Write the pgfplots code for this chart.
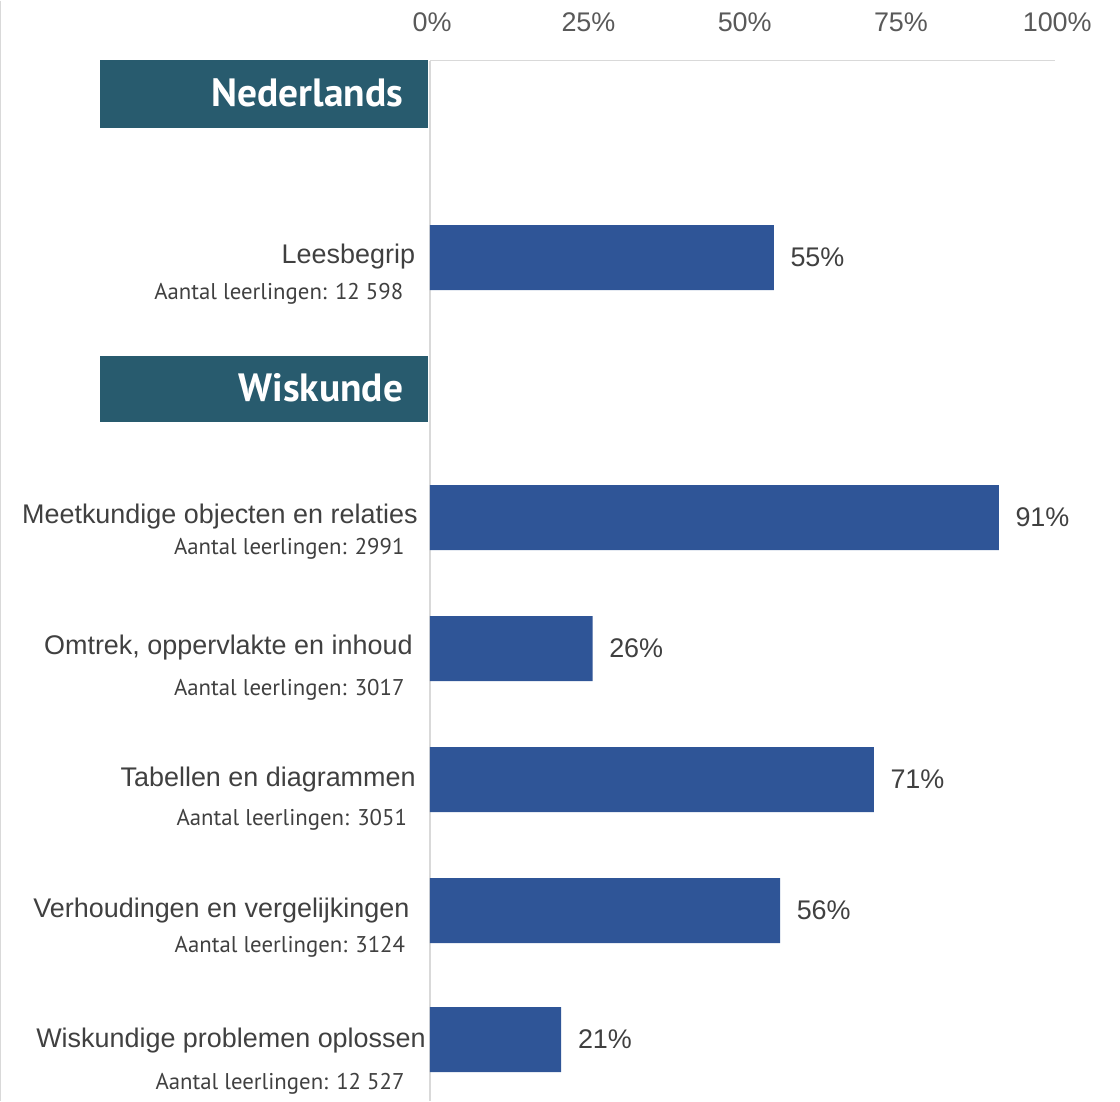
\documentclass[border=0pt]{standalone}
\usepackage{pgfplots}
\pgfplotsset{compat=1.18}
\usepackage{fontspec}
\setmainfont{Liberation Sans}
\newfontfamily\aantalfont{PT Sans}
\definecolor{barblue}{HTML}{2F5597}
\definecolor{hdrteal}{HTML}{285B6E}
\definecolor{lbl}{HTML}{404040}
\definecolor{tck}{HTML}{595959}
\definecolor{axgray}{HTML}{D9D9D9}
\newcommand\lblfont{\fontsize{9.7}{11}\selectfont}
\newcommand\subfont{\aantalfont\fontsize{8.2}{10}\selectfont}
\newcommand\hdrfont{\aantalfont\bfseries\fontsize{14.2}{16}\selectfont}

\begin{document}
\begin{tikzpicture}
\begin{axis}[
  scale only axis,
  width=225pt,
  height=374.4pt,
  xmin=0, xmax=100,
  ymin=-1100, ymax=-60,
  axis x line*=top,
  axis y line*=left,
  axis line style={draw=axgray, line width=0.6pt},
  xtick={0,25,50,75,100},
  xticklabel={\pgfmathprintnumber{\tick}\%},
  xticklabel style={font=\lblfont, text=tck, anchor=center, yshift=13.7pt, xshift=0.8pt},
  /pgf/number format/assume math mode=true,
  major tick length=0pt,
  ytick=\empty,
  xbar,
  bar width=65,
  point meta=x,
  nodes near coords={\pgfmathprintnumber{\pgfplotspointmeta}\%},
  nodes near coords style={font=\lblfont, text=lbl, xshift=2.5pt},
  clip=false,
]
\addplot[fill=barblue, draw=none] coordinates {
  (55,-257) (91,-517) (26,-648) (71,-779) (56,-910) (21,-1039)
};

% section headers
\fill[hdrteal] (axis cs:-52.8,-59) rectangle (axis cs:-0.3,-127);
\node[anchor=east, inner sep=0pt, text=white, font=\hdrfont] at (axis cs:-4.2,-92) {Nederlands};
\fill[hdrteal] (axis cs:-52.8,-355) rectangle (axis cs:-0.3,-421);
\node[anchor=east, inner sep=0pt, text=white, font=\hdrfont] at (axis cs:-4.2,-387) {Wiskunde};

% category labels
\tikzset{cat/.style={anchor=east, inner sep=0pt, text=lbl, font=\lblfont},
         sub/.style={anchor=east, inner sep=0pt, text=lbl, font=\subfont}}
\node[cat] at (axis cs:-2.3,-256) {Leesbegrip};
\node[sub] at (axis cs:-4.2,-293) {Aantal leerlingen: 12 598};
\node[cat] at (axis cs:-1.9,-516) {Meetkundige objecten en relaties};
\node[sub] at (axis cs:-4.0,-548) {Aantal leerlingen: 2991};
\node[cat] at (axis cs:-2.7,-647) {Omtrek, oppervlakte en inhoud};
\node[sub] at (axis cs:-4.0,-689) {Aantal leerlingen: 3017};
\node[cat] at (axis cs:-2.2,-779) {Tabellen en diagrammen};
\node[sub] at (axis cs:-3.6,-819) {Aantal leerlingen: 3051};
\node[cat] at (axis cs:-3.2,-910) {Verhoudingen en vergelijkingen};
\node[sub] at (axis cs:-3.9,-946) {Aantal leerlingen: 3124};
\node[cat] at (axis cs:-0.6,-1040) {Wiskundige problemen oplossen};
\node[sub] at (axis cs:-4.0,-1083) {Aantal leerlingen: 12 527};

% page frame
\draw[axgray, line width=0.4pt] (axis cs:-68.7,0) -- (axis cs:-68.7,-1100);
\path (axis cs:-68.8,0) rectangle (axis cs:110.4,-1100);
\end{axis}
\end{tikzpicture}
\end{document}
